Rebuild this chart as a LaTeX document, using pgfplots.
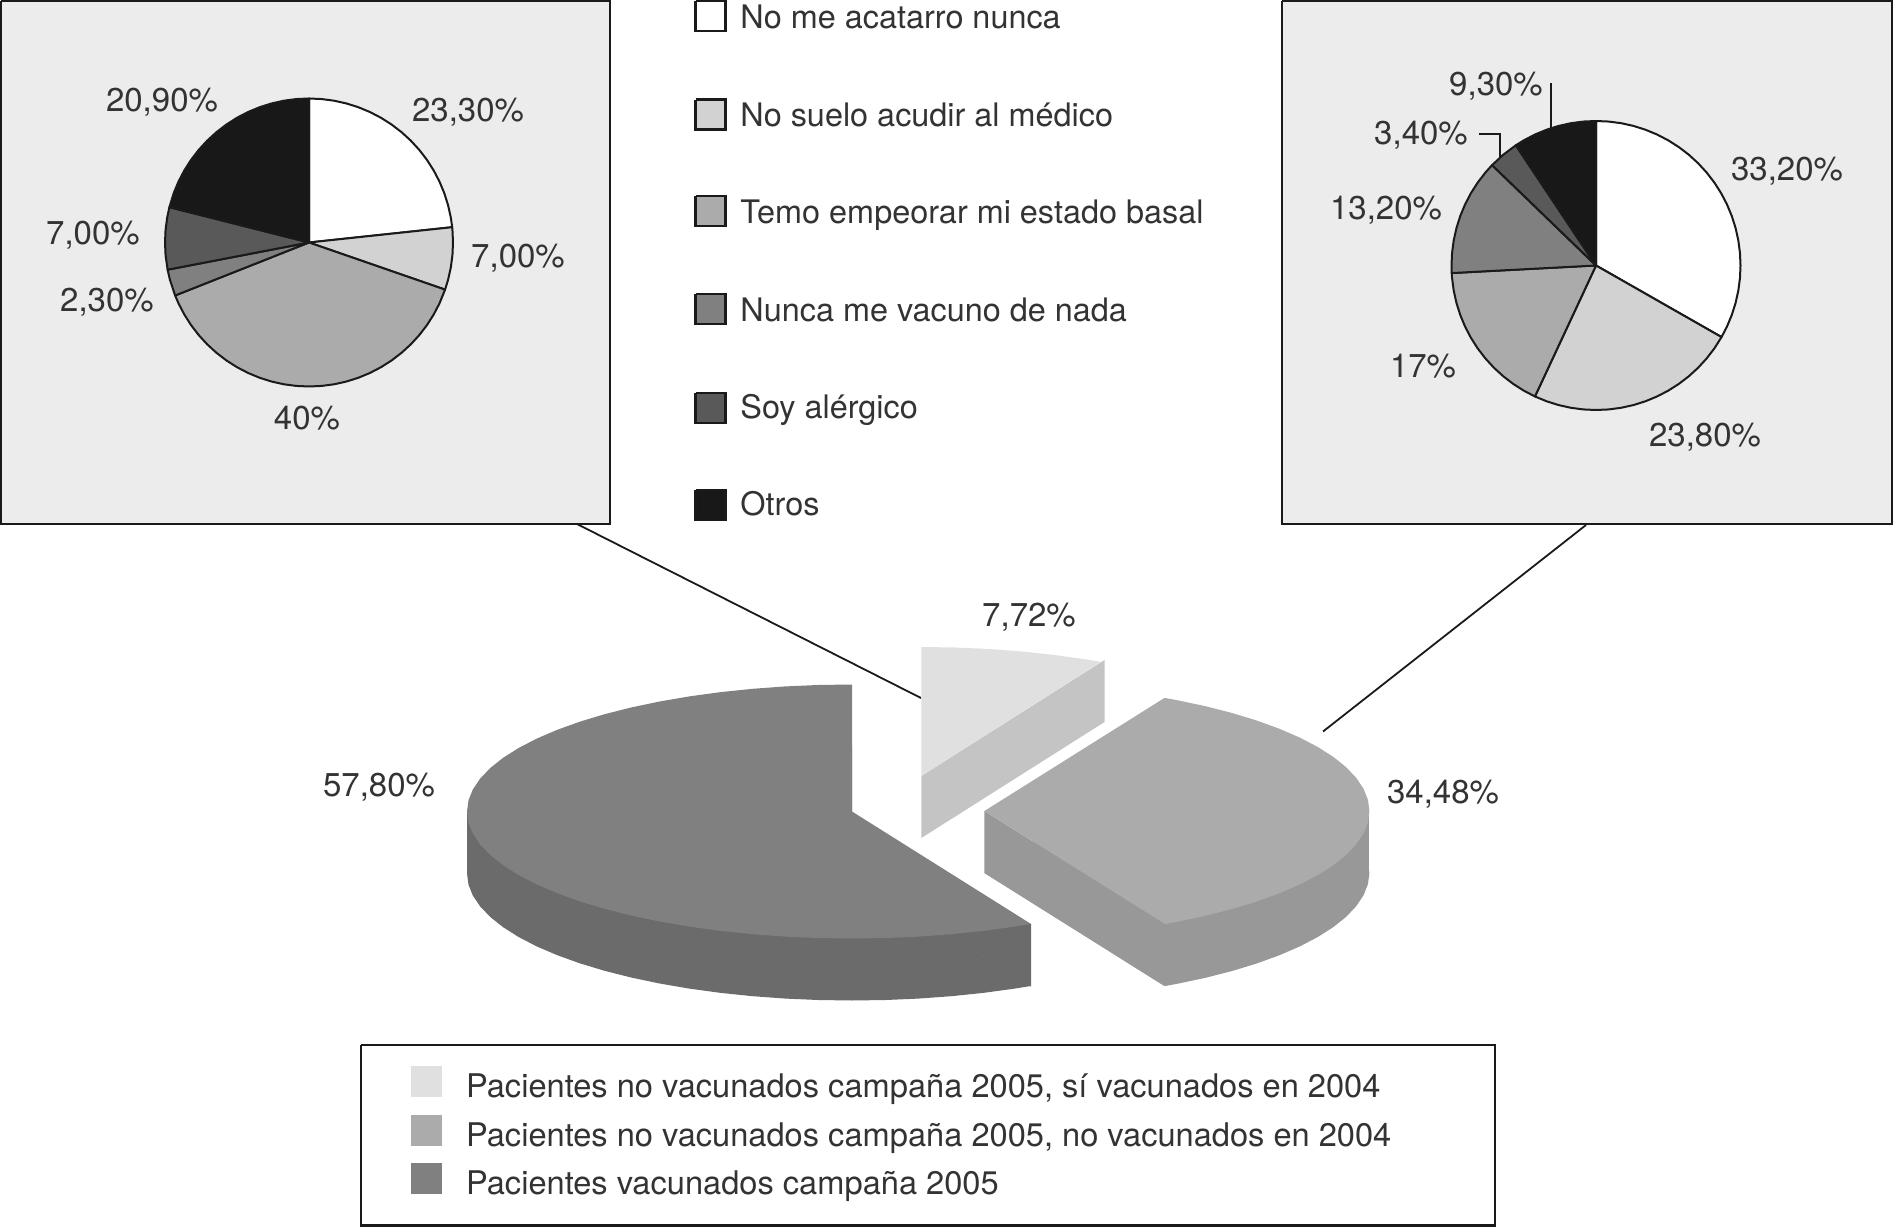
\documentclass[border=0pt]{standalone}
\usepackage{fontspec}
\setmainfont{TeX Gyre Heros}
\usepackage{pgfplots}
\usepgfplotslibrary{polar}
\pgfplotsset{compat=1.18}
\definecolor{ink}{HTML}{1A1A1A}
\definecolor{txt}{HTML}{333333}
\definecolor{boxbg}{HTML}{ECECEC}
\definecolor{g1}{HTML}{D2D2D2}
\definecolor{g2}{HTML}{ABABAB}
\definecolor{g3}{HTML}{808080}
\definecolor{g4}{HTML}{595959}
\definecolor{g5}{HTML}{181818}
\definecolor{lighttop}{HTML}{E0E0E0}
\definecolor{lightside}{HTML}{C4C4C4}
\definecolor{midside}{HTML}{989898}
\definecolor{darkside}{HTML}{6B6B6B}
\pgfplotsset{
  wedgeax/.style={hide axis, scale only axis, clip=false, anchor=center,
    xmin=-1, xmax=1, ymin=-1, ymax=1, data cs=polar},
  slice/.style={fill=#1, draw=ink, line width=1pt, line join=round},
  flat/.style={fill=#1, draw=none},
  frame/.style={fill=#1, draw=ink, line width=1.1pt},
}
\newcommand{\lab}{\fontsize{16.2}{19}\selectfont\color{txt}}
\newcommand{\num}{\fontsize{16.5}{19}\selectfont\color{txt}}
\newcommand{\low}{\fontsize{16.3}{19}\selectfont\color{txt}}
\tikzset{key/.style={anchor=base west, inner sep=0pt}, val/.style={anchor=base, inner sep=0pt}}
\begin{document}
\begin{tikzpicture}
\path[use as bounding box] (0,0) rectangle (946.5pt,613.5pt);

% page in pixel coordinates: boxes, keys, side faces, texts
\begin{axis}[at={(0,0)}, anchor=south west, scale only axis, width=946.5pt, height=613.5pt,
  hide axis, clip=false, xmin=0, xmax=1893, ymin=0, ymax=1227, y dir=reverse]
\addplot[frame=boxbg] coordinates {(1,1)(610,1)(610,524)(1,524)(1,1)};
\addplot[frame=boxbg] coordinates {(1282,1)(1892,1)(1892,524)(1282,524)(1282,1)};
\addplot[frame=white] coordinates {(361,1045)(1495,1045)(1495,1225.5)(361,1225.5)(361,1045)};

% connectors and leaders
\addplot[ink, line width=0.9pt] coordinates {(577,524)(921,698)};
\addplot[ink, line width=0.9pt] coordinates {(1586,525)(1323,731.5)};
\addplot[ink, line width=1pt] coordinates {(1551.3,83)(1551.3,128)};
\addplot[ink, line width=1pt] coordinates {(1479.4,134)(1499.6,134)(1499.6,157.5)};

% keys of the small pies
\addplot[frame=white] coordinates {(695.5,1)(725.5,1)(725.5,31)(695.5,31)(695.5,1)};
\addplot[frame=g1] coordinates {(695.5,99.5)(725.5,99.5)(725.5,129.5)(695.5,129.5)(695.5,99.5)};
\addplot[frame=g2] coordinates {(695.5,196)(725.5,196)(725.5,226)(695.5,226)(695.5,196)};
\addplot[frame=g3] coordinates {(695.5,294)(725.5,294)(725.5,324)(695.5,324)(695.5,294)};
\addplot[frame=g4] coordinates {(695.5,393)(725.5,393)(725.5,423)(695.5,423)(695.5,393)};
\addplot[frame=g5] coordinates {(695.5,490)(725.5,490)(725.5,520)(695.5,520)(695.5,490)};

% keys of the large pie
\addplot[flat=lighttop] coordinates {(410.5,1066)(441.5,1066)(441.5,1097)(410.5,1097)};
\addplot[flat=g2] coordinates {(410.5,1115)(441.5,1115)(441.5,1146)(410.5,1146)};
\addplot[flat=g3] coordinates {(410.5,1163)(441.5,1163)(441.5,1194)(410.5,1194)};

% side faces of the large pie that are not wedge copies
\addplot[flat=lightside] coordinates {(921.3,776)(1104.5,660)(1104.5,722)(921.3,838)};
\addplot[flat=darkside] coordinates {(467,811.5)(852,811.5)(852,873.5)(467,873.5)};
\addplot[flat=darkside] coordinates {(852,873.5)(1031,924)(1031,986.5)};
\addplot[flat=midside] coordinates {(1164,811)(1369.4,811)(1369.4,873)(1164,873)};
\addplot[flat=midside] coordinates {(984.4,811)(1164.3,924)(1164.3,986)(984.4,873)};

% texts
\node[key] at (axis cs:740,28.7) {\lab No me acatarro nunca};
\node[key] at (axis cs:740,126.8) {\lab No suelo acudir al médico};
\node[key] at (axis cs:740,223) {\lab Temo empeorar mi estado basal};
\node[key] at (axis cs:740,321) {\lab Nunca me vacuno de nada};
\node[key] at (axis cs:740,418.5) {\lab Soy alérgico};
\node[key] at (axis cs:740,515.5) {\lab Otros};

\node[val] at (axis cs:468,121.7) {\num 23,30\%};
\node[val] at (axis cs:518,267.7) {\num 7,00\%};
\node[val] at (axis cs:307,429.7) {\num 40\%};
\node[val] at (axis cs:107,311.7) {\num 2,30\%};
\node[val] at (axis cs:93,244.7) {\num 7,00\%};
\node[val] at (axis cs:162,111.7) {\num 20,90\%};

\node[val] at (axis cs:1787,180.7) {\num 33,20\%};
\node[val] at (axis cs:1705,446.7) {\num 23,80\%};
\node[val] at (axis cs:1423,377.7) {\num 17\%};
\node[val] at (axis cs:1386,219.7) {\num 13,20\%};
\node[val] at (axis cs:1421,144.7) {\num 3,40\%};
\node[val] at (axis cs:1496,95.7) {\num 9,30\%};

\node[val] at (axis cs:1029,626.2) {\num 7,72\%};
\node[val] at (axis cs:379,796.7) {\num 57,80\%};
\node[val] at (axis cs:1443,803.7) {\num 34,48\%};

\node[key] at (axis cs:465.7,1097) {\low Pacientes no vacunados campaña 2005, sí vacunados en 2004};
\node[key] at (axis cs:465.7,1146.6) {\low Pacientes no vacunados campaña 2005, no vacunados en 2004};
\node[key] at (axis cs:465.7,1194.8) {\low Pacientes vacunados campaña 2005};
\end{axis}

% left pie (angle, radius)
\begin{axis}[wedgeax, at={(154.5pt,492.25pt)}, width=144pt, height=144pt]
\addplot[slice=white] coordinates {(0,0)(90,1)(85,1)(80,1)(75,1)(70,1)(65,1)(60,1)(55,1)(50,1)(45,1)(40,1)(35,1)(30,1)(25,1)(20,1)(15,1)(10,1)(6.1,1)(0,0)};
\addplot[slice=g1] coordinates {(0,0)(6.1,1)(5,1)(0,1)(-5,1)(-10,1)(-15,1)(-19.1,1)(0,0)};
\addplot[slice=g2] coordinates {(0,0)(-19.1,1)(-25,1)(-30,1)(-35,1)(-40,1)(-45,1)(-50,1)(-55,1)(-60,1)(-65,1)(-70,1)(-75,1)(-80,1)(-85,1)(-90,1)(-95,1)(-100,1)(-105,1)(-110,1)(-115,1)(-120,1)(-125,1)(-130,1)(-135,1)(-140,1)(-145,1)(-150,1)(-155,1)(-158.4,1)(0,0)};
\addplot[slice=g3] coordinates {(0,0)(201.6,1)(195,1)(190.9,1)(0,0)};
\addplot[slice=g4] coordinates {(0,0)(190.9,1)(185,1)(180,1)(175,1)(170,1)(165.8,1)(0,0)};
\addplot[slice=g5] coordinates {(0,0)(165.8,1)(160,1)(155,1)(150,1)(145,1)(140,1)(135,1)(130,1)(125,1)(120,1)(115,1)(110,1)(105,1)(100,1)(95,1)(90,1)(0,0)};
\end{axis}

% right pie
\begin{axis}[wedgeax, at={(798pt,480.75pt)}, width=144.5pt, height=144.5pt]
\addplot[slice=white] coordinates {(0,0)(90,1)(85,1)(80,1)(75,1)(70,1)(65,1)(60,1)(55,1)(50,1)(45,1)(40,1)(35,1)(30,1)(25,1)(20,1)(15,1)(10,1)(5,1)(0,1)(-5,1)(-10,1)(-15,1)(-20,1)(-25,1)(-29.7,1)(0,0)};
\addplot[slice=g1] coordinates {(0,0)(-29.7,1)(-35,1)(-40,1)(-45,1)(-50,1)(-55,1)(-60,1)(-65,1)(-70,1)(-75,1)(-80,1)(-85,1)(-90,1)(-95,1)(-100,1)(-105,1)(-110,1)(-115,1)(0,0)};
\addplot[slice=g2] coordinates {(0,0)(245,1)(240,1)(235,1)(230,1)(225,1)(220,1)(215,1)(210,1)(205,1)(200,1)(195,1)(190,1)(185,1)(183,1)(0,0)};
\addplot[slice=g3] coordinates {(0,0)(183,1)(180,1)(175,1)(170,1)(165,1)(160,1)(155,1)(150,1)(145,1)(140,1)(136,1)(0,0)};
\addplot[slice=g4] coordinates {(0,0)(136,1)(130,1)(123.7,1)(0,0)};
\addplot[slice=g5] coordinates {(0,0)(123.7,1)(120,1)(115,1)(110,1)(105,1)(100,1)(95,1)(90,1)(0,0)};
\end{axis}

% large pie: 57,80% slice
\begin{axis}[wedgeax, at={(426pt,207.75pt)}, width=385pt, height=127pt]
\addplot[flat=darkside, yshift=-31pt] coordinates {(0,0)(90,1)(95,1)(100,1)(105,1)(110,1)(115,1)(120,1)(125,1)(130,1)(135,1)(140,1)(145,1)(150,1)(155,1)(160,1)(165,1)(170,1)(175,1)(180,1)(185,1)(190,1)(195,1)(200,1)(205,1)(210,1)(215,1)(220,1)(225,1)(230,1)(235,1)(240,1)(245,1)(250,1)(255,1)(260,1)(265,1)(270,1)(275,1)(280,1)(285,1)(290,1)(295,1)(297.7,1)(0,0)};
\addplot[flat=g3] coordinates {(0,0)(90,1)(95,1)(100,1)(105,1)(110,1)(115,1)(120,1)(125,1)(130,1)(135,1)(140,1)(145,1)(150,1)(155,1)(160,1)(165,1)(170,1)(175,1)(180,1)(185,1)(190,1)(195,1)(200,1)(205,1)(210,1)(215,1)(220,1)(225,1)(230,1)(235,1)(240,1)(245,1)(250,1)(255,1)(260,1)(265,1)(270,1)(275,1)(280,1)(285,1)(290,1)(295,1)(297.7,1)(0,0)};
\end{axis}

% large pie: 34,48% slice
\begin{axis}[wedgeax, at={(492.2pt,208pt)}, width=385pt, height=128pt]
\addplot[flat=midside, yshift=-31pt] coordinates {(0,0)(62.1,1)(60,1)(55,1)(50,1)(45,1)(40,1)(35,1)(30,1)(25,1)(20,1)(15,1)(10,1)(5,1)(0,1)(-5,1)(-10,1)(-15,1)(-20,1)(-25,1)(-30,1)(-35,1)(-40,1)(-45,1)(-50,1)(-55,1)(-60,1)(-62,1)(0,0)};
\addplot[flat=g2] coordinates {(0,0)(62.1,1)(60,1)(55,1)(50,1)(45,1)(40,1)(35,1)(30,1)(25,1)(20,1)(15,1)(10,1)(5,1)(0,1)(-5,1)(-10,1)(-15,1)(-20,1)(-25,1)(-30,1)(-35,1)(-40,1)(-45,1)(-50,1)(-55,1)(-60,1)(-62,1)(0,0)};
\end{axis}

% large pie: 7,72% slice
\begin{axis}[wedgeax, at={(460.65pt,225.5pt)}, width=385pt, height=129pt]
\addplot[flat=lighttop] coordinates {(0,0)(90,1)(85,1)(80,1)(75,1)(70,1)(65,1)(62.2,1)(0,0)};
\end{axis}
\end{tikzpicture}
\end{document}
